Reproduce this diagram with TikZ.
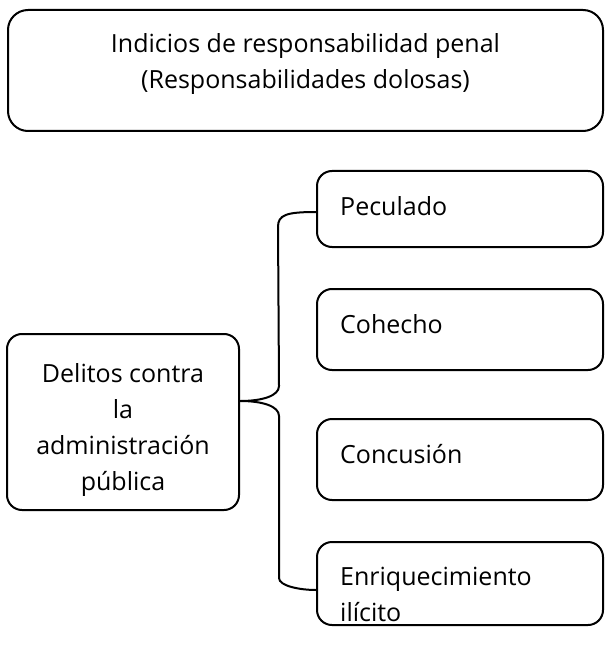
\documentclass[tikz,border=0pt]{standalone}
\usepackage{fontspec}
\setmainfont{Open Sans}
\begin{document}
\begin{tikzpicture}[x=1pt,y=-1pt]

\def\lw{2pt}
\def\txtoff{36}
\def\txtin{24}

\tikzset{box/.style = {draw, line width=\lw, rounded corners=15pt, inner sep=0pt},
         txt/.style = {font=\fontsize{25}{36}\selectfont, inner sep=0pt}}

\useasboundingbox (0,0) rectangle (605,652);

% titulo
\node[box, rounded corners=20pt, minimum width=595pt, minimum height=121pt] (tit) at (305.5,70.5) {};
\node[txt, align=center] (titt) at ([yshift=6pt]tit.center) {Indicios de responsabilidad penal\\(Responsabilidades dolosas)};

% delitos
\node[box, minimum width=232pt, minimum height=176pt] (del) at (123,422) {};
\node[txt, align=center] (delt) at ([yshift=-8pt]del.center) {Delitos contra\\la\\administración\\pública};

% tipos
\node[box, minimum width=286pt, minimum height=76pt] (pec) at (460,209) {};
\node[box, minimum width=286pt, minimum height=81pt] (coh) at (460,329.5) {};
\node[box, minimum width=286pt, minimum height=81pt] (con) at (460,459.5) {};
\node[box, minimum width=286pt, minimum height=83pt] (enr) at (460,583.5) {};

\path (pec.north west) node[txt, anchor=west] (pect) at +(\txtin,\txtoff) {Peculado};
\path (coh.north west) node[txt, anchor=west] (coht) at +(\txtin,\txtoff) {Cohecho};
\path (con.north west) node[txt, anchor=west] (cont) at +(\txtin,\txtoff) {Concusión};
\path (enr.north west) node[txt, anchor=west, align=left] (enrt) at +(\txtin,\txtoff+17) {Enriquecimiento\\ilícito};

% llave
\path (pec.west) ++(0,3) coordinate (b1);
\path (enr.west) ++(0,6.5) coordinate (b2);
\path (del.east) ++(0,-21) coordinate (bm);
\draw[line width=\lw] (b1) .. controls +(-30,0) and +(0,-12) .. ([xshift=-38pt]b1 |- 0,227)
  -- (279,386) .. controls (279,396) and (262,401) .. (bm)
  .. controls (262,401) and (279,406) .. (279,416)
  -- (279,578) .. controls (279,586) and (300,590) .. (b2);

\end{tikzpicture}
\end{document}
